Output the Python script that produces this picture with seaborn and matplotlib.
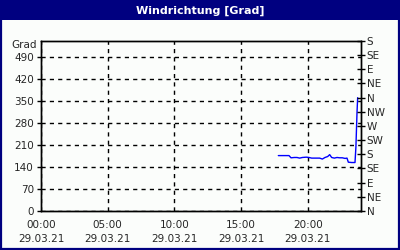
import matplotlib
matplotlib.use("Agg")
import matplotlib.pyplot as plt
import seaborn as sns
import pandas as pd
from matplotlib.patches import Rectangle

hours = [17.8, 18.0, 18.2, 18.4, 18.6, 18.75, 19.0, 19.2, 19.4, 19.6, 19.9, 20.1,
         20.3, 20.6, 20.9, 21.1, 21.3, 21.5, 21.65, 21.8, 22.0, 22.2, 22.4, 22.6,
         22.8, 22.95, 23.05, 23.3, 23.55, 23.62, 23.7, 23.75]
values = [176, 176, 176, 176, 176, 169, 170, 170, 168, 170, 171, 170,
          168, 168, 168, 165, 170, 173, 179, 170, 168, 170, 169, 169,
          167, 168, 155, 154, 154, 205, 312, 360]
y_ticks = [0, 70, 140, 210, 280, 350, 420, 490]
x_ticks = [0, 5, 10, 15, 20]
x_labels = ["00:00\n29.03.21", "05:00\n29.03.21", "10:00\n29.03.21",
            "15:00\n29.03.21", "20:00\n29.03.21"]
dir_ticks = [0, 45, 90, 135, 180, 225, 270, 315, 360, 405, 450, 495, 540]
dir_labels = ["N", "NE", "E", "SE", "S", "SW", "W", "NW", "N", "NE", "E", "SE", "S"]
title = "Windrichtung [Grad]"

navy = "#000080"
bg = "#FBFDFB"
fs = 7.5

sns.set_style("white")
plt.rcParams["font.family"] = ["DejaVu Sans"]

fig = plt.figure(figsize=(4, 2.5), dpi=100)
fig.patch.set_facecolor(bg)

# title bar and border
fig.patches.append(Rectangle((0, 230 / 250), 1, 20 / 250, transform=fig.transFigure,
                             facecolor=navy, edgecolor="none", zorder=0))
fig.patches.append(Rectangle((0.0025, 0.004), 0.995, 0.992, transform=fig.transFigure,
                             facecolor="none", edgecolor=navy, linewidth=1.6, zorder=5))
fig.text(0.5, 1 - 10.5 / 250, title, color="white", fontsize=8, fontweight="bold",
         ha="center", va="center")

ax = fig.add_axes([41 / 400, 1 - 211 / 250, 320 / 400, 170 / 250])
ax.set_facecolor(bg)
df = pd.DataFrame({"h": hours, "v": values})
sns.lineplot(data=df, x="h", y="v", ax=ax, color="#0000FF", linewidth=1)
ax.set_xlim(0, 24)
ax.set_ylim(0, 540)
ax.set_xlabel("")
ax.set_ylabel("")
ax.set_yticks(y_ticks)
ax.set_yticklabels([str(v) for v in y_ticks], fontsize=fs)
ax.set_xticks(x_ticks)
ax.set_xticklabels(x_labels, fontsize=fs, linespacing=1.55)
ax.set_xticks(range(0, 25), minor=True)
ax.tick_params(axis="x", which="both", direction="out", length=3, width=1, color="black", pad=3.5)
ax.tick_params(axis="y", which="both", direction="out", length=3, width=1, color="black", pad=2)
for s in ax.spines.values():
    s.set_color("black")
    s.set_linewidth(1)
ax.grid(True, color="black", linestyle=(0, (3, 3)), linewidth=1)
ax.set_axisbelow(True)

ax2 = ax.twinx()
ax2.set_ylim(0, 540)
ax2.set_yticks(dir_ticks)
ax2.set_yticklabels(dir_labels, fontsize=fs)
ax2.tick_params(axis="y", direction="inout", length=6, width=1, color="black", pad=1)
for s in ax2.spines.values():
    s.set_color("black")
    s.set_linewidth(1)

fig.text(37 / 400, 1 - 45 / 250, "Grad", fontsize=fs, ha="right", va="center")

fig.savefig("out.png", dpi=100, facecolor=fig.get_facecolor())
